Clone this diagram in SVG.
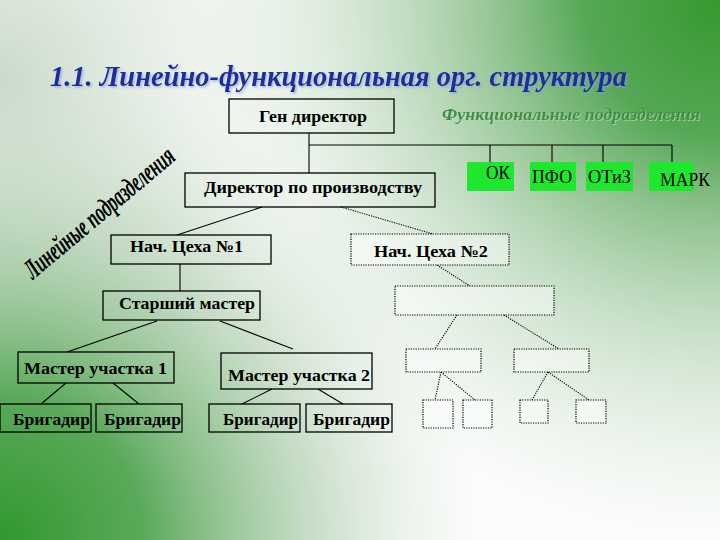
<svg xmlns="http://www.w3.org/2000/svg" width="720" height="540" viewBox="0 0 720 540" font-family="Liberation Serif">
<defs>
<radialGradient id="gTR" gradientUnits="userSpaceOnUse" cx="720" cy="0" r="540">
<stop offset="0" stop-color="#35992f" stop-opacity="1"/>
<stop offset="0.25" stop-color="#4da34d" stop-opacity="0.95"/>
<stop offset="0.55" stop-color="#8fc08f" stop-opacity="0.6"/>
<stop offset="1" stop-color="#d0e4d0" stop-opacity="0"/>
</radialGradient>
<radialGradient id="gBL" gradientUnits="userSpaceOnUse" cx="0" cy="540" r="480">
<stop offset="0" stop-color="#30982e" stop-opacity="1"/>
<stop offset="0.3" stop-color="#52a552" stop-opacity="0.95"/>
<stop offset="0.65" stop-color="#9ec49e" stop-opacity="0.55"/>
<stop offset="1" stop-color="#d0e2d0" stop-opacity="0"/>
</radialGradient>
<radialGradient id="gTL" gradientUnits="userSpaceOnUse" cx="0" cy="80" r="330">
<stop offset="0" stop-color="#c4d6c4" stop-opacity="0.9"/>
<stop offset="1" stop-color="#e0ebe0" stop-opacity="0"/>
</radialGradient>
<filter id="sh" x="-5%" y="-20%" width="110%" height="150%">
<feDropShadow dx="1.5" dy="1.5" stdDeviation="0.8" flood-color="#8a9ad0" flood-opacity="0.7"/>
</filter>
<filter id="shg" x="-5%" y="-20%" width="110%" height="150%">
<feDropShadow dx="1" dy="1" stdDeviation="0.6" flood-color="#b8d8b8" flood-opacity="0.7"/>
</filter>
</defs>
<style>
text{font-family:Liberation Serif, serif;}
.b{fill:none;stroke:#000;stroke-width:1.3;}
.d{fill:#ffffff;fill-opacity:0.45;stroke:#000;stroke-width:1.2;stroke-dasharray:1.2 1.2;}
.g{fill:#1de82e;stroke:none;}
.t{font-size:17px;font-weight:bold;fill:#000;}
.gt{font-size:18px;fill:#000;}
.l{stroke:#000;stroke-width:1.1;fill:none;}
.dl{stroke:#000;stroke-width:1.1;fill:none;stroke-dasharray:1.2 1.2;}
</style>
<rect width="720" height="540" fill="#fbfcfb"/>
<rect width="720" height="540" fill="url(#gTL)"/>
<rect width="720" height="540" fill="url(#gTR)"/>
<rect width="720" height="540" fill="url(#gBL)"/>

<text x="50" y="86" font-size="30" font-style="italic" font-weight="bold" fill="#1a2e9e" textLength="577" lengthAdjust="spacingAndGlyphs" filter="url(#sh)">1.1.  Линейно-функциональная орг. структура</text>
<text x="442" y="120" font-size="16" font-style="italic" font-weight="bold" fill="#3f8f45" textLength="258" lengthAdjust="spacingAndGlyphs" filter="url(#shg)">Функциональные подразделения</text>
<text transform="translate(33,280) rotate(-40)" font-size="28" font-style="italic" font-weight="bold" fill="#000" textLength="188" lengthAdjust="spacingAndGlyphs">Линейные подразделения</text>

<g id="connectors">
<polyline class="l" points="309,133 309,173"/>
<polyline class="l" points="309,145 672,145"/>
<line class="l" x1="490" y1="145" x2="490" y2="162"/>
<line class="l" x1="552" y1="145" x2="552" y2="162"/>
<line class="l" x1="603" y1="145" x2="603" y2="162"/>
<line class="l" x1="672" y1="145" x2="672" y2="162"/>
<line class="l" x1="262" y1="207" x2="177" y2="235"/>
<line class="dl" x1="341" y1="207" x2="433" y2="234"/>
<line class="l" x1="180" y1="264" x2="180" y2="291"/>
<line class="l" x1="157" y1="321" x2="67" y2="352"/>
<line class="l" x1="220" y1="321" x2="293" y2="349"/>
<line class="l" x1="66" y1="383" x2="41" y2="404"/>
<line class="l" x1="113" y1="383" x2="139" y2="404"/>
<line class="l" x1="272" y1="389" x2="242" y2="404"/>
<line class="l" x1="318" y1="389" x2="343" y2="404"/>
<line class="dl" x1="437" y1="265" x2="470" y2="286"/>
<line class="dl" x1="457" y1="315" x2="435" y2="349"/>
<line class="dl" x1="504" y1="315" x2="559" y2="349"/>
<line class="dl" x1="441" y1="372" x2="435" y2="400"/>
<line class="dl" x1="441" y1="372" x2="475" y2="400"/>
<line class="dl" x1="548" y1="372" x2="532" y2="400"/>
<line class="dl" x1="548" y1="372" x2="589" y2="400"/>
</g>

<g id="gen">
<rect class="b" x="229" y="99" width="165" height="34"/>
<text class="t" x="259" y="122" textLength="108" lengthAdjust="spacingAndGlyphs">Ген директор</text>
</g>
<g id="ok">
<rect class="g" x="467" y="162" width="47" height="29"/>
<text class="gt" x="486" y="179" textLength="24" lengthAdjust="spacingAndGlyphs">ОК</text>
</g>
<g id="pfo">
<rect class="g" x="530" y="162" width="46" height="29"/>
<text class="gt" x="532" y="183" textLength="40" lengthAdjust="spacingAndGlyphs">ПФО</text>
</g>
<g id="otiz">
<rect class="g" x="586" y="162" width="47" height="29"/>
<text class="gt" x="588" y="183" textLength="43" lengthAdjust="spacingAndGlyphs">ОТиЗ</text>
</g>
<g id="mark">
<rect class="g" x="649" y="162" width="45" height="29"/>
<text class="gt" x="660" y="186" textLength="50" lengthAdjust="spacingAndGlyphs">МАРК</text>
</g>
<g id="dirprod">
<rect class="b" x="185" y="173" width="250" height="34"/>
<text class="t" x="204" y="193" textLength="218" lengthAdjust="spacingAndGlyphs">Директор по производству</text>
</g>
<g id="ceh1">
<rect class="b" x="111" y="235" width="160" height="29"/>
<text class="t" x="130" y="252" textLength="113" lengthAdjust="spacingAndGlyphs">Нач. Цеха №1</text>
</g>
<g id="ceh2">
<rect class="d" x="351" y="234" width="158" height="31"/>
<text class="t" x="374" y="257" textLength="114" lengthAdjust="spacingAndGlyphs">Нач. Цеха №2</text>
</g>
<g id="starshiy">
<rect class="b" x="103" y="291" width="157" height="29"/>
<text class="t" x="119" y="309" textLength="136" lengthAdjust="spacingAndGlyphs">Старший мастер</text>
</g>
<g id="master1">
<rect class="b" x="18" y="352" width="156" height="31"/>
<text class="t" x="24" y="374" textLength="143" lengthAdjust="spacingAndGlyphs">Мастер участка 1</text>
</g>
<g id="master2">
<rect class="b" x="221" y="353" width="151" height="36"/>
<text class="t" x="228" y="381" textLength="142" lengthAdjust="spacingAndGlyphs">Мастер участка 2</text>
</g>
<g id="brig1">
<rect class="b" x="0" y="404" width="91" height="28"/>
<text class="t" x="13" y="425" textLength="77" lengthAdjust="spacingAndGlyphs">Бригадир</text>
</g>
<g id="brig2">
<rect class="b" x="96" y="404" width="86" height="28"/>
<text class="t" x="104" y="425" textLength="77" lengthAdjust="spacingAndGlyphs">Бригадир</text>
</g>
<g id="brig3">
<rect class="b" x="209" y="404" width="91" height="28"/>
<text class="t" x="223" y="425" textLength="75" lengthAdjust="spacingAndGlyphs">Бригадир</text>
</g>
<g id="brig4">
<rect class="b" x="306" y="404" width="86" height="28"/>
<text class="t" x="313" y="425" textLength="77" lengthAdjust="spacingAndGlyphs">Бригадир</text>
</g>
<g id="e1"><rect class="d" x="395" y="286" width="159" height="29"/></g>
<g id="e2"><rect class="d" x="406" y="349" width="75" height="23"/></g>
<g id="e3"><rect class="d" x="514" y="349" width="75" height="23"/></g>
<g id="e4"><rect class="d" x="423" y="400" width="30" height="28"/></g>
<g id="e5"><rect class="d" x="463" y="400" width="29" height="28"/></g>
<g id="e6"><rect class="d" x="520" y="400" width="28" height="23"/></g>
<g id="e7"><rect class="d" x="576" y="400" width="30" height="23"/></g>
</svg>
